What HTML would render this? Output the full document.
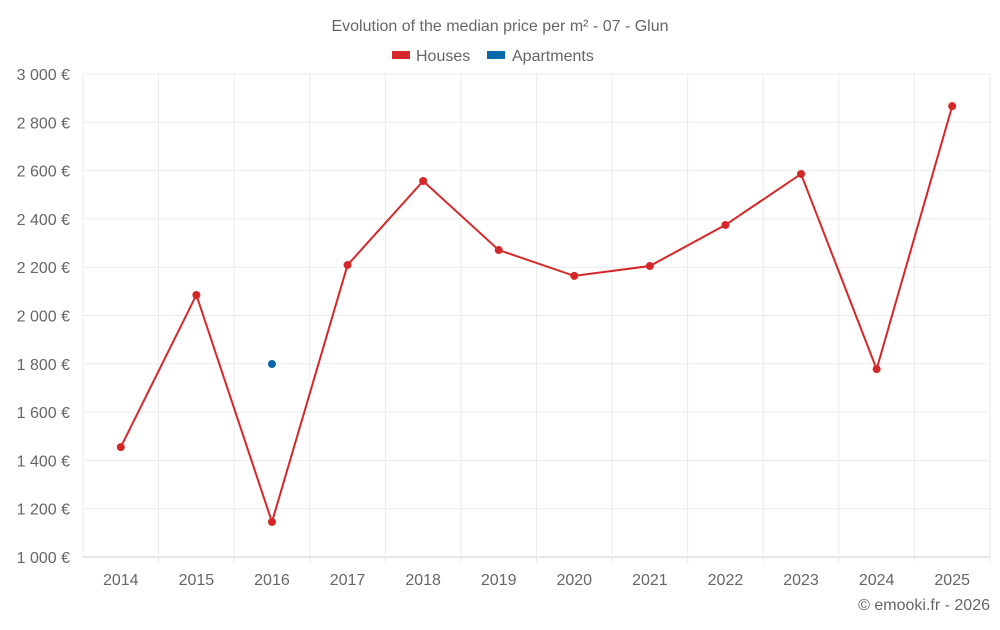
<!DOCTYPE html>
<html><head><meta charset="utf-8"><style>
body{margin:0;background:#fff;font-family:"Liberation Sans",Roboto,sans-serif;}
svg text{font-family:"Liberation Sans",sans-serif;fill:#666;}
</style></head><body>
<svg id="chart" width="1000" height="625">
<text x="500" y="31" text-anchor="middle" font-size="16">Evolution of the median price per m² - 07 - Glun</text>
<g>
<g><rect x="392" y="51" width="18" height="8" fill="#d62728"/><text x="416" y="61" font-size="16">Houses</text></g>
<g><rect x="487" y="51" width="18" height="8" fill="#0868ac"/><text x="512" y="61" font-size="16">Apartments</text></g>
</g>
<g id="grid"></g><g id="axes"></g><g id="series"></g>
<text x="990" y="610" text-anchor="end" font-size="16">© emooki.fr - 2026</text>
</svg>
<script>
const categories=[2014,2015,2016,2017,2018,2019,2020,2021,2022,2023,2024,2025];
const houses=[1455,2085,1145,2209,2557,2271,2164,2205,2375,2586,1778,2867];
const apartments=[null,null,1799,null,null,null,null,null,null,null,null,null];
const yTicks=[1000,1200,1400,1600,1800,2000,2200,2400,2600,2800,3000];
const yTickLabels=["1 000 €","1 200 €","1 400 €","1 600 €","1 800 €","2 000 €","2 200 €","2 400 €","2 600 €","2 800 €","3 000 €"];
const L=83,R=990,T=74,B=557,ymin=1000,ymax=3000;
const bw=(R-L)/categories.length;
const x=i=>L+bw*(i+0.5);
const y=v=>B-(v-ymin)/(ymax-ymin)*(B-T);
const ns="http://www.w3.org/2000/svg";
function mk(tag,attrs,parent,txt){const e=document.createElementNS(ns,tag);for(const k in attrs)e.setAttribute(k,attrs[k]);if(txt!==undefined)e.textContent=txt;document.getElementById(parent).appendChild(e);return e;}
yTicks.forEach((t,i)=>{
 const g=mk('line',{x1:L,x2:R,y1:y(t),y2:y(t),stroke:i===0?'#ccc':'#ebebeb','stroke-width':1},'grid');
 
 
 const lb=mk('text',{x:70,y:y(t)+6,'text-anchor':'end','font-size':16},'axes',yTickLabels[i]);
 
 
});
for(let i=0;i<=categories.length;i++){
 const g=mk('line',{x1:L+bw*i,x2:L+bw*i,y1:T,y2:B+(i>0?6:0),stroke:'#ebebeb'},'grid');
 
 
}
categories.forEach((c,i)=>{
 const lb=mk('text',{x:x(i),y:585,'text-anchor':'middle','font-size':16},'axes',c);
 
 
});
const pts=houses.map((v,i)=>x(i)+','+y(v)).join(' ');
const pl=mk('polyline',{points:pts,fill:'none',stroke:'#d62728','stroke-width':2},'series');


houses.forEach((v,i)=>{
 const c=mk('circle',{cx:x(i),cy:y(v),r:4,fill:'#d62728'},'series');
 
 
});
apartments.forEach((v,i)=>{
 if(v==null)return;
 const c=mk('circle',{cx:x(i),cy:y(v),r:4,fill:'#0868ac'},'series');
 
 
});
</script>
</body></html>
